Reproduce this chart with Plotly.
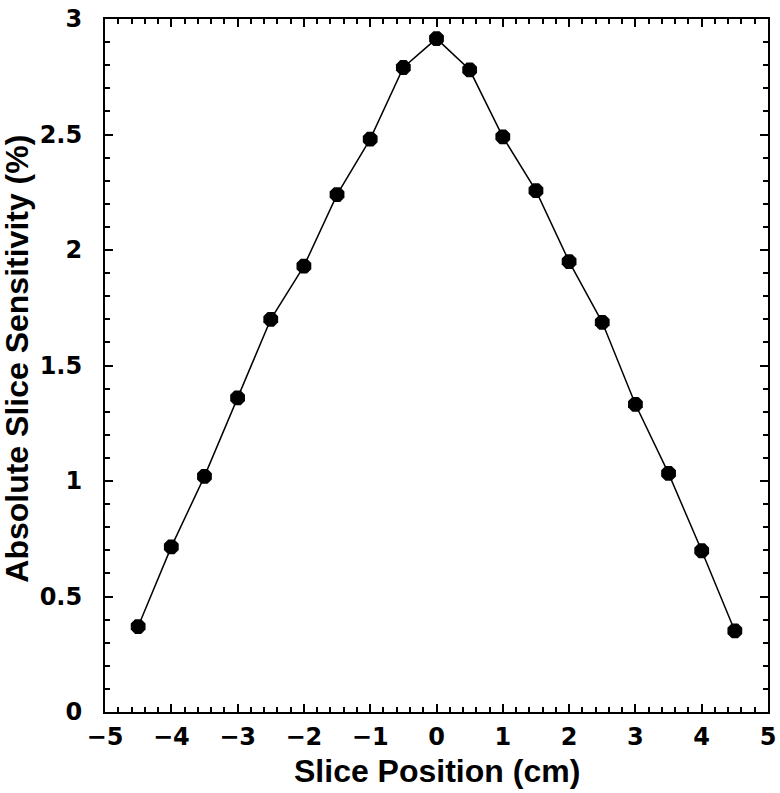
import plotly.graph_objects as go

# slice positions (cm) and absolute slice sensitivity (%)
positions = [-4.5, -4.0, -3.5, -3.0, -2.5, -2.0, -1.5, -1.0, -0.5, 0.0,
             0.5, 1.0, 1.5, 2.0, 2.5, 3.0, 3.5, 4.0, 4.5]
sensitivity = [0.37, 0.715, 1.02, 1.36, 1.70, 1.93, 2.24, 2.48, 2.79, 2.915,
               2.78, 2.49, 2.257, 1.95, 1.687, 1.332, 1.033, 0.698, 0.351]

x_title = "Slice Position (cm)"
y_title = "Absolute Slice Sensitivity (%)"

TITLE_FONT = dict(family="Liberation Sans", size=32, color='black', weight='bold')
TICK_FONT = dict(family="DejaVu Sans", size=24, color='black', weight='bold')

fig = go.Figure()

fig.add_trace(
    go.Scatter(
        x=positions,
        y=sensitivity,
        mode='lines+markers',
        line=dict(color='black', width=1.5),
        marker=dict(symbol='octagon', size=16, color='black'),
        showlegend=False,
    )
)

axis_style = dict(
    showline=True,
    linecolor='black',
    linewidth=2,
    mirror='ticks',
    ticks='inside',
    ticklen=8,
    tickwidth=2,
    tickcolor='black',
    showgrid=False,
    zeroline=False,
    automargin=False,
    ticklabeloverflow='allow',
    tickfont=TICK_FONT,
)

fig.update_xaxes(
    **axis_style,
    range=[-5, 5],
    dtick=1,
    ticklabelstandoff=2,
    minor=dict(dtick=0.2, ticks='inside', ticklen=5, tickwidth=2, tickcolor='black'),
)

fig.update_yaxes(
    **axis_style,
    range=[0, 3],
    dtick=0.5,
    ticklabelstandoff=16,
    minor=dict(dtick=0.1, ticks='inside', ticklen=5, tickwidth=2, tickcolor='black'),
)

# axis titles as annotations so they sit exactly where the reference has them
fig.add_annotation(text=x_title, xref='paper', yref='paper', x=0.5, y=-0.085,
                   xanchor='center', yanchor='middle', showarrow=False, font=TITLE_FONT)
fig.add_annotation(text=y_title, xref='paper', yref='paper', x=-0.134, y=0.51,
                   xanchor='center', yanchor='middle', textangle=-90,
                   showarrow=False, font=TITLE_FONT)

fig.update_layout(
    width=780,
    height=793,
    template="plotly_white",
    plot_bgcolor='white',
    paper_bgcolor='white',
    margin=dict(l=105, r=12, t=19, b=81),
)

# drop the browser's default 8px body margin so the figure fills the window
fig.write_html(
    "out.html",
    config={'displayModeBar': False},
    post_script="document.body.style.margin = '0';",
)
